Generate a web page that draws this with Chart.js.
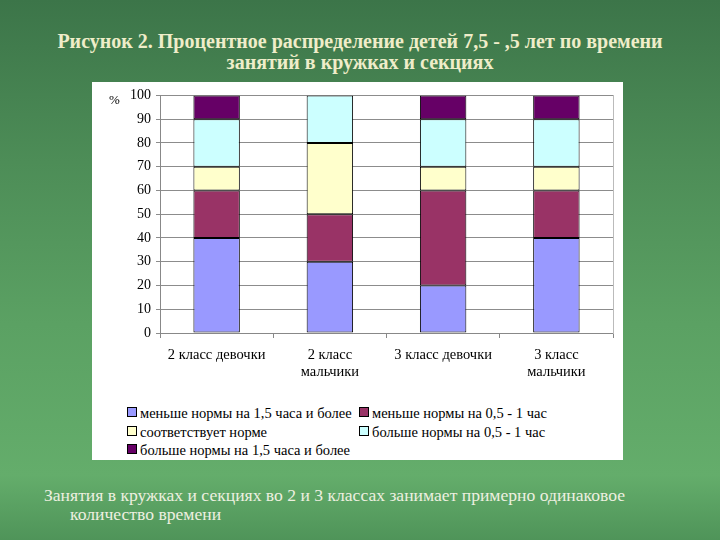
<!DOCTYPE html>
<html>
<head>
<meta charset="utf-8">
<script src="https://cdn.jsdelivr.net/npm/chart.js@4"></script>
<style>
  html, body { margin: 0; padding: 0; }
  body {
    width: 720px; height: 540px; overflow: hidden; position: relative;
    background: linear-gradient(to bottom, #3c7549 0%, #4d8d57 30%, #5ba163 60%, #64ad6b 88%, #4f9459 100%);
    font-family: "Liberation Serif", "Times New Roman", serif;
  }
  #title {
    position: absolute; left: 0; top: 31px; width: 720px; text-align: center;
    color: #efedc9; font-weight: bold; font-size: 20px; line-height: 21px;
  }
  #box {
    position: absolute; left: 92px; top: 82px; width: 531px; height: 378px; background: #fff;
  }
  #wrap { position: absolute; left: 0; top: 0; width: 531px; height: 310px; }
  #pct { position: absolute; left: 17px; top: 10px; font-size: 13px; color: #000; }
  #legend { position: absolute; left: 0; top: 322px; width: 531px; font-size: 14.5px; color: #000; }
  .li { position: absolute; white-space: nowrap; line-height: 18px; }
  .li i { display: inline-block; width: 8px; height: 8px; border: 1px solid #000; margin-right: 3px; vertical-align: 1px; }
  #note {
    position: absolute; left: 44px; top: 486px; width: 660px; color: #eef0e0;
    font-size: 17.6px; line-height: 19px;
  }
  #note div + div { padding-left: 26px; }
</style>
</head>
<body>
<div id="title">Рисунок 2. Процентное распределение детей 7,5 - ,5 лет по времени<br>занятий в кружках и секциях</div>
<div id="box">
  <div id="wrap"><canvas id="c"></canvas></div>
  <div id="pct">%</div>
  <div id="legend"></div>
</div>
<div id="note"><div>Занятия в кружках и секциях во 2 и 3 классах занимает примерно одинаковое</div><div>количество времени</div></div>
<script>
// categories
const categories = ['2 класс девочки', ['2 класс', 'мальчики'], '3 класс девочки', ['3 класс', 'мальчики']];

// series (percent)
const seriesNames = [
  'меньше нормы на 1,5 часа и более',
  'меньше нормы на 0,5 - 1 час',
  'соответствует норме',
  'больше нормы на 0,5 - 1 час',
  'больше нормы на 1,5 часа и более'
];
const lessMuch   = [40, 30, 20, 40];
const lessSome   = [20, 20, 40, 20];
const normal     = [10, 30, 10, 10];
const moreSome   = [20, 20, 20, 20];
const moreMuch   = [10, 0, 10, 10];
const seriesColors = ['#9999ff', '#993366', '#ffffcc', '#ccffff', '#660066'];

const yTicks = [0, 10, 20, 30, 40, 50, 60, 70, 80, 90, 100];

const font = { family: '"Liberation Serif", "Times New Roman", serif', size: 14 };

const seriesData = [lessMuch, lessSome, normal, moreSome, moreMuch];
const datasets = seriesData.map((d, i) => ({
  label: seriesNames[i],
  data: d,
  backgroundColor: seriesColors[i],
  borderColor: '#000',
  borderWidth: 1,
  borderSkipped: false,
  categoryPercentage: 1,
  barPercentage: 0.41
}));

new Chart(document.getElementById('c'), {
  type: 'bar',
  data: { labels: categories, datasets },
  options: {
    responsive: true,
    maintainAspectRatio: false,
    animation: false,
    layout: { padding: { top: 13, right: 10, left: 0, bottom: 0 } },
    plugins: { legend: { display: false }, tooltip: { enabled: false } },
    scales: {
      x: {
        stacked: true,
        grid: { display: true, drawOnChartArea: false, drawTicks: true, tickLength: 5, color: '#888', offset: true },
        border: { color: '#888' },
        ticks: { color: '#000', font: { ...font, size: 14.5 }, padding: 8, maxRotation: 0, autoSkip: false },
        afterFit: s => { s.height = 59; }
      },
      y: {
        stacked: true,
        min: 0, max: 100,
        afterBuildTicks: s => { s.ticks = yTicks.map(v => ({ value: v })); },
        grid: { color: '#8c8c8c', tickLength: 4 },
        border: { color: '#888' },
        ticks: { color: '#000', font, padding: 5 },
        afterFit: s => { s.width = 68; }
      },
      y2: {
        position: 'right',
        min: 0, max: 100,
        grid: { drawOnChartArea: false, drawTicks: false },
        border: { color: '#bbb' },
        ticks: { display: false },
        afterFit: s => { s.width = 0; }
      }
    }
  }
});

// legend in two columns
const legendPos = [[35, 0], [267, 0], [35, 19], [267, 19], [35, 37]];
const legend = document.getElementById('legend');
seriesNames.forEach((name, i) => {
  const el = document.createElement('div');
  el.className = 'li';
  el.style.left = legendPos[i][0] + 'px';
  el.style.top = legendPos[i][1] + 'px';
  el.innerHTML = '<i style="background:' + seriesColors[i] + '"></i>' + name;
  legend.appendChild(el);
});
</script>
</body>
</html>
